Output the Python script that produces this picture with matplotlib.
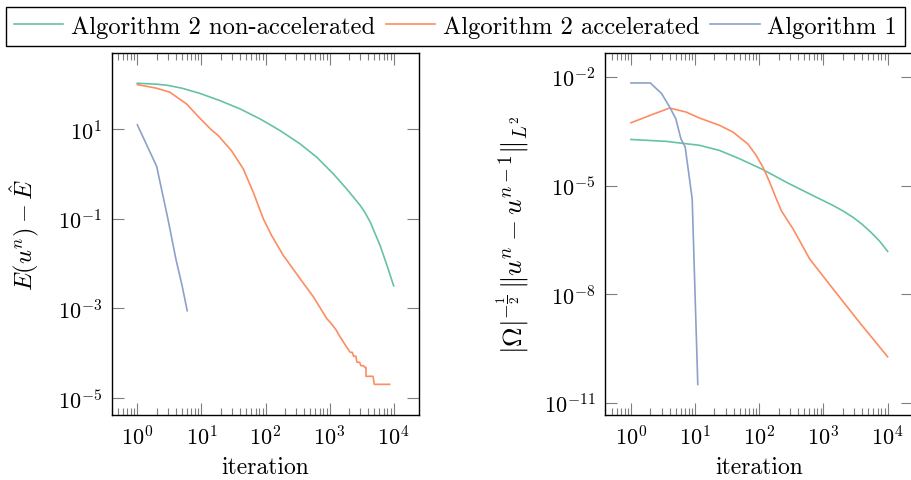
import matplotlib
matplotlib.use("Agg")
import matplotlib.pyplot as plt
from matplotlib.ticker import FixedLocator, NullLocator
import numpy as np

plt.rcParams['font.family'] = 'cmr10'
plt.rcParams['mathtext.fontset'] = 'cm'
plt.rcParams['axes.formatter.use_mathtext'] = True
plt.rcParams['axes.unicode_minus'] = True

labels = ["Algorithm 2 non-accelerated", "Algorithm 2 accelerated", "Algorithm 1"]
colors = ["#66c2a5", "#fc8d62", "#8da0cb"]

# Left panel: E(u^n) - E_hat
e_nonacc_x = [1, 2, 3, 5, 9.44, 19.4, 40, 82, 169, 347, 631, 1150, 1860, 3020, 3600, 4320, 6170, 7870, 10000]
e_nonacc_y = [106, 101, 95, 82, 63, 43.5, 28.4, 17, 9.3, 4.7, 2.37, 1.0, 0.46, 0.197, 0.135, 0.084, 0.025, 0.0091, 0.0032]

e_acc_x = [1, 2, 3.2, 5.85, 9.44, 14.4, 18.3, 29.5, 45, 64.5, 92.5, 125, 190, 347, 562, 907,
           1023, 1250, 1466, 1750, 2099, 2259, 2366, 2576, 2673, 2938, 3090, 3388, 3565, 3698, 3698,
           4764, 4989, 8650]
e_acc_y = [99, 82, 67, 36.7, 17.6, 9.6, 7.2, 3.3, 1.3, 0.39, 0.10, 0.042, 0.0152, 0.0046, 0.0018, 5.9e-4,
           4.9e-4, 3.4e-4, 2.3e-4, 1.55e-4, 1.05e-4, 1.05e-4, 8.6e-5, 8.6e-5, 6.3e-5, 6.3e-5, 5.28e-5,
           5.28e-5, 4.86e-5, 4.86e-5, 3.07e-5, 3.07e-5, 2.03e-5, 2.03e-5]

e_alg1_x = [1, 2, 3, 4, 5, 6]
e_alg1_y = [12.5, 1.49, 0.10, 0.0126, 0.0032, 8.9e-4]

# Right panel: |Omega|^{-1/2} ||u^n - u^{n-1}||
d_nonacc_x = [1, 3.5, 11.7, 24, 49, 114, 264, 690, 1416, 2000, 2900, 4000, 5500, 7500, 10000]
d_nonacc_y = [1.87e-4, 1.66e-4, 1.29e-4, 9.3e-5, 5.5e-5, 2.75e-5, 1.23e-5, 5.25e-6, 2.8e-6, 2.0e-6,
              1.32e-6, 8.5e-7, 5.1e-7, 2.9e-7, 1.52e-7]

d_acc_x = [1, 2, 4, 7.2, 11.7, 24, 38.8, 66.5, 89.8, 114, 145, 184, 221, 336, 611, 1416, 3700, 10000]
d_acc_y = [5.4e-4, 8.7e-4, 1.38e-3, 1.07e-3, 7.3e-4, 4.6e-4, 3.0e-4, 1.4e-4, 6.7e-5, 3.2e-5, 1.24e-5,
           4.3e-6, 2.0e-6, 6.3e-7, 9.3e-8, 1.38e-8, 1.6e-9, 1.86e-10]

d_alg1_x = [1, 2, 3, 4, 5, 6, 7, 8, 9, 10, 11]
d_alg1_y = [6.8e-3, 6.8e-3, 3.47e-3, 1.48e-3, 7.0e-4, 1.95e-4, 1.15e-4, 2.0e-5, 4.2e-6, 8.5e-9, 3.2e-11]

left_yticks = [1e1, 1e-1, 1e-3, 1e-5]
right_yticks = [1e-2, 1e-5, 1e-8, 1e-11]
xticks = [1e0, 1e1, 1e2, 1e3, 1e4]

W, H = 911, 481
fig = plt.figure(figsize=(W / 100, H / 100), dpi=100)
ax1 = fig.add_axes([111.7 / W, 1 - 415.7 / H, 307.6 / W, 361.7 / H])
ax2 = fig.add_axes([605.3 / W, 1 - 415.7 / H, 308.0 / W, 361.7 / H])

FS = 16
minor_x = [k * 10.0 ** d for d in range(-1, 4) for k in range(2, 10)]

def style(ax, yticks, ylim):
    ax.set_xscale('log')
    ax.set_yscale('log')
    ax.set_xlim(10 ** -0.4, 10 ** 4.4)
    ax.set_ylim(*ylim)
    ax.xaxis.set_major_locator(FixedLocator(xticks))
    ax.xaxis.set_minor_locator(FixedLocator(minor_x))
    ax.yaxis.set_major_locator(FixedLocator(yticks))
    ax.yaxis.set_minor_locator(NullLocator())
    ax.tick_params(which='both', direction='in', top=True, right=True, color='#7f7f7f',
                   width=0.8, labelsize=FS, pad=7)
    ax.tick_params(which='major', length=8.5)
    ax.tick_params(which='minor', length=5)
    for s in ax.spines.values():
        s.set_linewidth(1.0)
        s.set_color('black')
    ax.set_xlabel('iteration', fontsize=FS + 1, labelpad=5)

lw = 1.2
l1, = ax1.plot(e_nonacc_x, e_nonacc_y, color=colors[0], lw=lw)
l2, = ax1.plot(e_acc_x, e_acc_y, color=colors[1], lw=lw)
l3, = ax1.plot(e_alg1_x, e_alg1_y, color=colors[2], lw=lw)
style(ax1, left_yticks, (10 ** -5.37, 10 ** 2.70))
ax1.set_ylabel(r'$E(u^n)-\hat{E}$', fontsize=FS + 1.5, labelpad=12)

ax2.plot(d_nonacc_x, d_nonacc_y, color=colors[0], lw=lw)
ax2.plot(d_acc_x, d_acc_y, color=colors[1], lw=lw)
ax2.plot(d_alg1_x, d_alg1_y, color=colors[2], lw=lw)
style(ax2, right_yticks, (10 ** -11.33, 10 ** -1.34))
ax2.set_ylabel(r'$|\Omega|^{-\frac{1}{2}}\,\Vert u^n-u^{n-1}\Vert_{L^2}$', fontsize=FS + 3.5, labelpad=9)

leg = fig.legend([l1, l2, l3], labels, loc='upper center', bbox_to_anchor=(455.5 / W, 1 - 7.5 / H),
                 ncol=3, fontsize=FS + 1.7, frameon=True, fancybox=False, framealpha=1,
                 edgecolor='black', handlelength=2.0, handletextpad=0.3, columnspacing=0.45,
                 borderpad=0.35, borderaxespad=0)
leg.get_frame().set_linewidth(1.0)

fig.savefig('out.png', dpi=100)
